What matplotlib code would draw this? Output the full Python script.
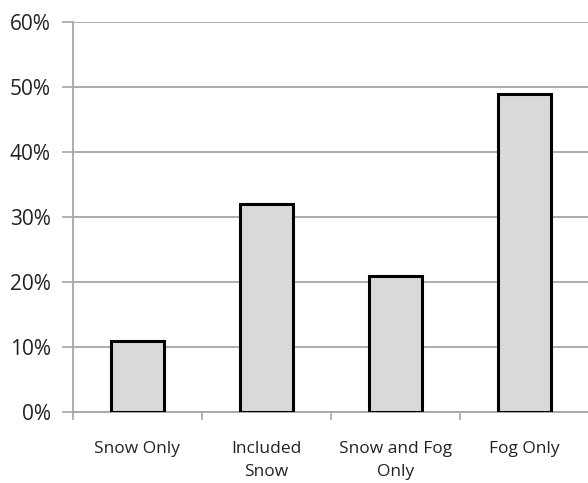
import matplotlib
matplotlib.use("Agg")
import matplotlib.pyplot as plt
from matplotlib.ticker import FuncFormatter

categories = ["Snow Only", "Included\nSnow", "Snow and Fog\nOnly", "Fog Only"]
values = [11, 32, 21, 49]
yticks = [0, 10, 20, 30, 40, 50, 60]

plt.rcParams["font.family"] = ["Open Sans", "DejaVu Sans"]

fig = plt.figure(figsize=(5.88, 4.83), dpi=100)
ax = fig.add_axes([0.124, 0.147, 0.878, 0.807])

x = range(len(categories))
ax.bar(x, values, width=0.41, color="#D9D9D9", edgecolor="black",
       linewidth=2.2, zorder=3)

ax.set_xlim(-0.5, len(categories) - 0.5)
ax.set_ylim(0, 60)
ax.set_yticks(yticks)
ax.yaxis.set_major_formatter(FuncFormatter(lambda v, _: f"{v:.0f}%"))
ax.set_xticks([i - 0.5 for i in range(len(categories) + 1)], minor=False)
ax.set_xticklabels([])
ax.set_xticks(list(x), minor=True)
ax.set_xticklabels(categories, minor=True, fontsize=12.5, color="#222222",
                   linespacing=1.6)
ax.tick_params(axis="x", which="minor", length=0, pad=21)
ax.tick_params(axis="x", which="major", length=6, width=1.2, color="#A6A6A6")
ax.tick_params(axis="y", length=8, width=1.2, color="#A6A6A6",
               labelsize=15, labelcolor="#222222", pad=8)

ax.grid(axis="y", color="#A6A6A6", linewidth=1.3, zorder=0)
for side in ("top", "right"):
    ax.spines[side].set_visible(False)
for side in ("left", "bottom"):
    ax.spines[side].set_color("#A6A6A6")
    ax.spines[side].set_linewidth(1.3)

fig.savefig("out.png", dpi=100)
